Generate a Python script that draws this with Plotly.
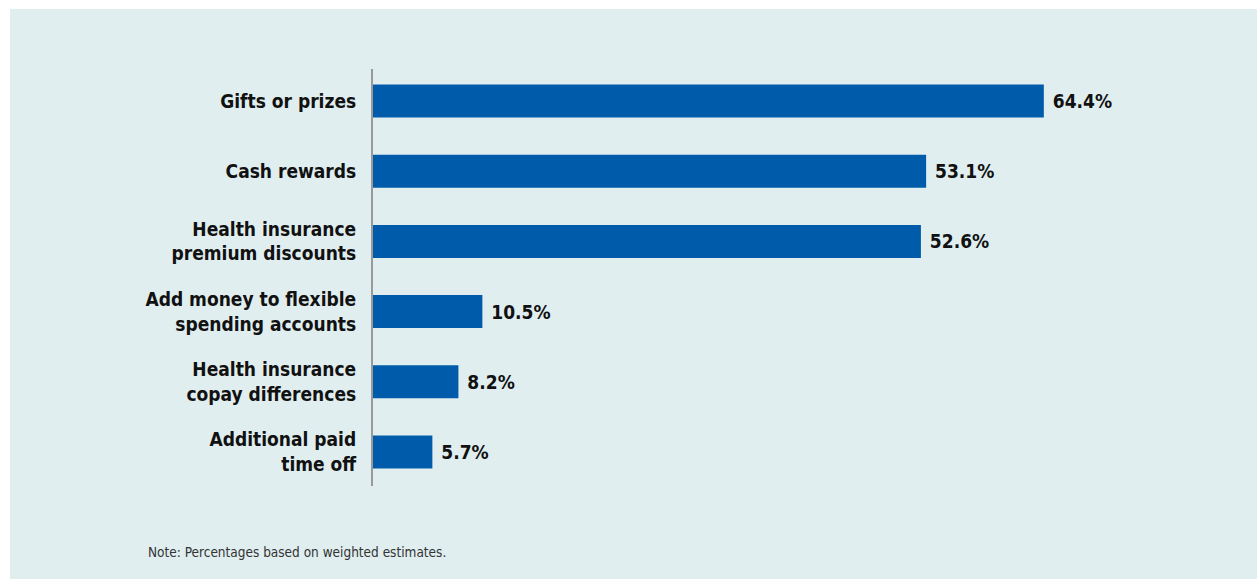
import plotly.graph_objects as go

categories = [
    "Gifts or prizes",
    "Cash rewards",
    "Health insurance<br>premium discounts",
    "Add money to flexible<br>spending accounts",
    "Health insurance<br>copay differences",
    "Additional paid<br>time off",
]
values = [64.4, 53.1, 52.6, 10.5, 8.2, 5.7]
note_text = "Note: Percentages based on weighted estimates."

BG = "#e0eef0"
BAR = "#005caa"
FONT = "DejaVu Sans Condensed, Liberation Sans Narrow, sans-serif"

W, H = 1257, 579
ML, MR, MT, MB = 373, 9, 69, 93
PW, PH = W - ML - MR, H - MT - MB


def px_to_paper_y(p):
    return (MT + PH - p) / PH


def px_to_paper_x(p):
    return (p - ML) / PW


fig = go.Figure(
    go.Bar(
        y=categories,
        x=values,
        orientation="h",
        marker=dict(color=BAR, line=dict(width=0)),
        width=0.47,
        text=[f"{v:.1f}%" for v in values],
        texttemplate=" %{text}",
        textposition="outside",
        outsidetextfont=dict(family=FONT, size=19, color="#111111", weight="bold"),
        cliponaxis=False,
        hoverinfo="skip",
    )
)

fig.update_layout(
    width=W,
    height=H,
    margin=dict(l=ML, r=MR, t=MT, b=MB, pad=0),
    paper_bgcolor="white",
    plot_bgcolor=BG,
    showlegend=False,
    font=dict(family=FONT, color="#111111"),
    xaxis=dict(
        range=[0, 84],
        visible=False,
        showgrid=False,
        zeroline=False,
    ),
    yaxis=dict(
        type="category",
        categoryorder="array",
        categoryarray=categories,
        range=[5.484, -0.456],
        showgrid=False,
        zeroline=False,
        showline=True,
        linecolor="#999999",
        linewidth=2,
        ticks="",
        ticklabelstandoff=11,
        tickfont=dict(family=FONT, size=19, color="#111111", weight="bold"),
    ),
    shapes=[
        dict(
            type="rect",
            xref="paper",
            yref="paper",
            x0=px_to_paper_x(10),
            x1=px_to_paper_x(W + 5),
            y0=px_to_paper_y(H + 5),
            y1=px_to_paper_y(9),
            fillcolor=BG,
            line=dict(width=0),
            layer="below",
        )
    ],
    annotations=[
        dict(
            text=note_text,
            xref="paper",
            yref="paper",
            x=px_to_paper_x(146),
            y=px_to_paper_y(552),
            xanchor="left",
            yanchor="middle",
            showarrow=False,
            font=dict(family=FONT, size=13.5, color="#333333"),
        )
    ],
)

fig.write_html("out.html")
